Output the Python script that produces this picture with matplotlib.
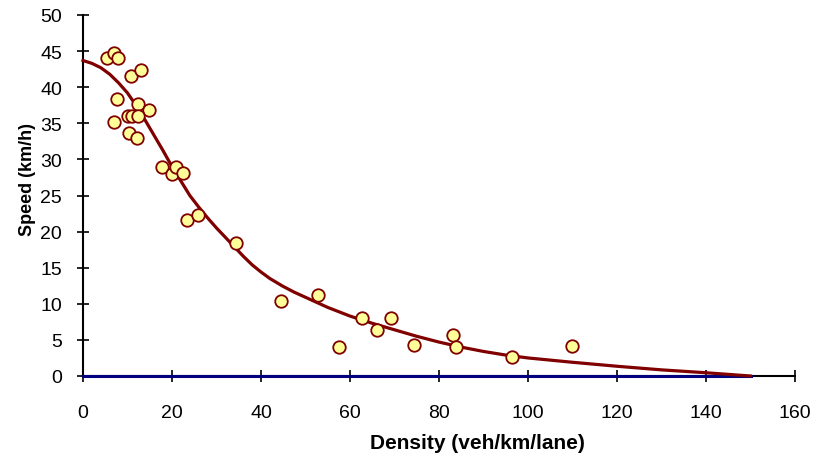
import matplotlib.pyplot as plt

plt.rcParams['font.family'] = ['Liberation Sans', 'DejaVu Sans']

# observed density / speed pairs
density = [5.5, 7.0, 7.9, 10.7, 13.0, 7.6, 12.4, 14.9, 7.0, 10.2, 10.9, 12.4,
           10.4, 12.2, 17.8, 19.9, 21.0, 22.4, 23.4, 25.9, 34.3, 44.4, 52.7,
           57.6, 62.7, 66.0, 69.3, 74.4, 83.1, 83.8, 96.3, 109.8]
speed = [44.0, 44.8, 44.0, 41.5, 42.4, 38.3, 37.7, 36.8, 35.2, 36.0, 36.0, 36.0,
         33.6, 32.9, 28.9, 28.0, 28.9, 28.1, 21.6, 22.3, 18.4, 10.4, 11.2,
         4.0, 8.0, 6.4, 8.0, 4.3, 5.7, 4.0, 2.7, 4.1]

# fitted model curve
fit_k = [0, 2, 4, 6, 8, 10, 12, 14, 16, 18, 20, 22, 24, 26, 28, 30, 32, 34,
         36, 38, 40, 42, 45, 47.5, 50, 55, 60, 65, 70, 75, 80, 85, 90, 95,
         100, 110, 120, 130, 140, 150]
fit_v = [43.7, 43.3, 42.7, 41.8, 40.6, 39.2, 37.4, 35.4, 33.3, 31.2, 29.0,
         27.0, 25.0, 23.4, 21.9, 20.5, 19.2, 17.9, 16.6, 15.4, 14.4, 13.5,
         12.4, 11.6, 10.9, 9.5, 8.3, 7.3, 6.4, 5.5, 4.7, 4.0, 3.4, 2.9,
         2.5, 1.9, 1.35, 0.85, 0.45, 0.0]

# zero line series
zero_k = [0, 150]
zero_v = [0, 0]

fig = plt.figure(figsize=(8.24, 4.64), dpi=100)
ax = fig.add_axes([83/824, 1-377/464, 712/824, 361/464])

ax.plot(zero_k, zero_v, color='#000080', lw=2.2, zorder=2, clip_on=False)
ax.plot(fit_k, fit_v, color='#800000', lw=2.3, zorder=3, clip_on=False,
        solid_joinstyle='round')
ax.plot(density, speed, 'o', ms=9, mfc='#FFFF99', mec='#800000', mew=1.3,
        zorder=4, clip_on=False)

ax.set_xlim(0, 160)
ax.set_ylim(0, 50)
ax.set_xticks(range(0, 161, 20))
ax.set_yticks(range(0, 51, 5))

for s in ['top', 'right']:
    ax.spines[s].set_visible(False)
for s in ['left', 'bottom']:
    ax.spines[s].set_linewidth(1.5)
    ax.spines[s].set_color('black')
    ax.spines[s].set_zorder(1)

ax.tick_params(axis='both', direction='inout', length=8, width=1.2,
               labelsize=14)
ax.tick_params(axis='x', pad=16)
ax.tick_params(axis='y', pad=11)

ax.set_xlabel('Density (veh/km/lane)', fontsize=15, fontweight='bold',
              va='center')
ax.set_ylabel('Speed (km/h)', fontsize=13, fontweight='bold', va='center')
ax.xaxis.set_label_coords((477 - 83) / 712, (377 - 444) / 361)
ax.yaxis.set_label_coords((28 - 83) / 712, (377 - 180) / 361)

fig.savefig('out.png', dpi=100)
